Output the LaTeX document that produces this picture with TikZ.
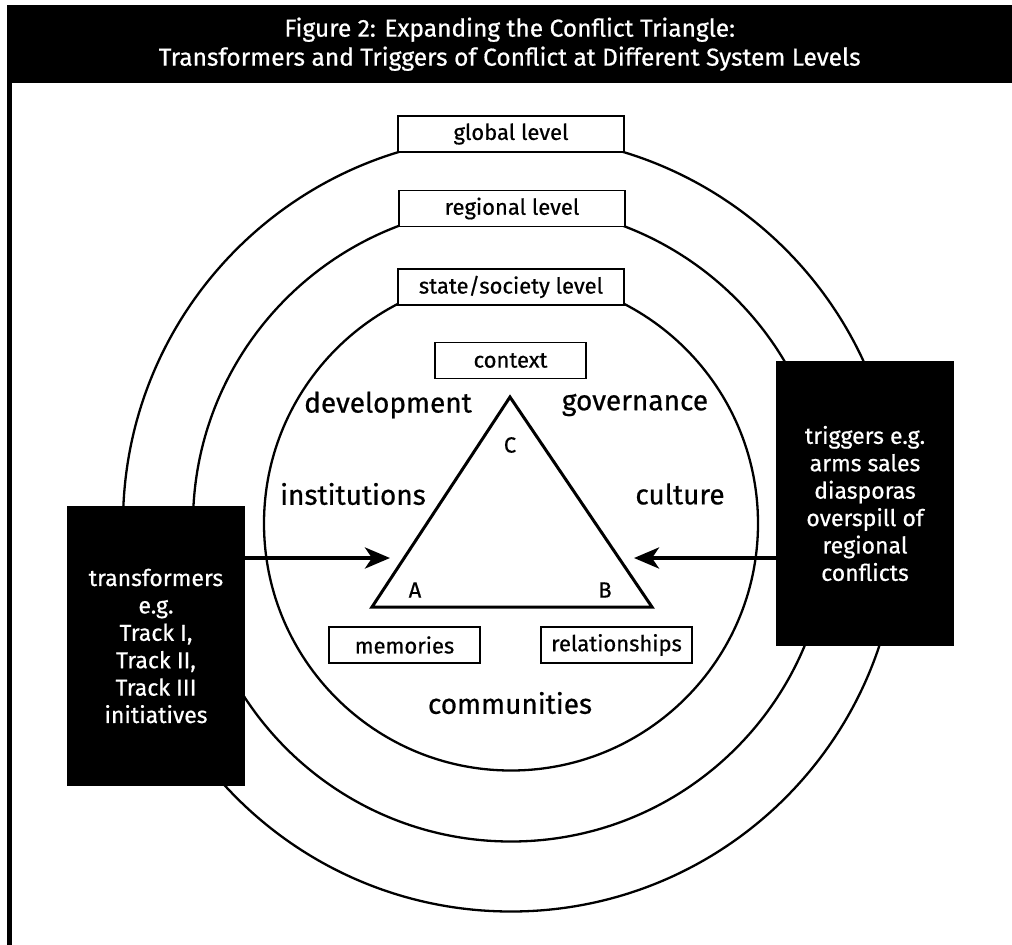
\documentclass[tikz,border=0pt]{standalone}
\usepackage{fontspec}
\setmainfont{Fira Sans}[FakeBold=0.6]
\usetikzlibrary{arrows.meta}
\begin{document}
\begin{tikzpicture}[x=1pt,y=-1pt,
  ring/.style={draw, line width=2.3pt},
  lvlbox/.style={draw, fill=white, line width=1.3pt, minimum width=226pt, minimum height=36pt, inner sep=0pt, font=\fontsize{22}{26}\selectfont},
  lblbox/.style={draw, fill=white, line width=1.3pt, minimum width=151pt, minimum height=36pt, inner sep=0pt, font=\fontsize{22}{26}\selectfont},
  blackbox/.style={fill=black, text=white, align=center, inner sep=0pt, font=\fontsize{23}{27.4}\selectfont},
  biglbl/.style={inner sep=0pt, font=\fontsize{28}{32}\selectfont},
  corner/.style={inner sep=0pt, font=\fontsize{22}{26}\selectfont},
  bigarrow/.style={-{Stealth[length=25pt,width=21pt,inset=7pt]}, line width=4pt}
]
\useasboundingbox (0,0) rectangle (1012,945);
\fill[white] (0,0) rectangle (1012,945);
% title band
\node[fill=black, minimum width=1005pt, minimum height=78pt, anchor=north west, inner sep=0pt,
      text=white, align=center, font=\fontsize{24.5}{29}\selectfont] (title) at (7,5)
  {Figure 2: Expanding the Conflict Triangle:\\Transformers and Triggers of Conflict at Different System Levels};
\coordinate (bl) at (9.5,945);
\draw[line width=4.3pt] (title.south west -| bl) -- (bl);
% rings
\coordinate (O) at (511,523.5);
\draw[ring] (O) circle[radius=388pt];
\draw[ring] (O) circle[radius=318pt];
\draw[ring] (O) circle[radius=247pt];
% level boxes
\node[lvlbox] (global) at (511,134) {global level};
\node[lvlbox] (regional) at (512,208.5) {regional level};
\node[lvlbox] (state) at (511,287) {state/society level};
% triangle
\coordinate (A) at (372,607);
\coordinate (B) at (652,607);
\coordinate (C) at (510,397);
\draw[line width=3pt, line join=miter] (A) -- (B) -- (C) -- cycle;
\node[corner] (la) at (415,590) {A};
\node[corner] (lb) at (605,590) {B};
\node[corner] (lc) at (510,445) {C};
% label boxes
\node[lblbox] (context) at (510.5,360.5) {context};
\node[lblbox] (memories) at (404.5,645) {memories};
\node[lblbox] (relationships) at (616.5,645) {relationships};
% big labels
\node[biglbl] (development) at (388,405) {development};
\node[biglbl] (governance) at (635,405) {governance};
\node[biglbl] (institutions) at (353,494) {institutions};
\node[biglbl] (culture) at (680,494) {culture};
\node[biglbl] (communities) at (510,703) {communities};
% black boxes
\node[blackbox, minimum width=178pt, minimum height=280pt] (transformers) at (156,646)
  {transformers\\e.g.\\Track I,\\Track II,\\Track III\\initiatives};
\node[blackbox, minimum width=178pt, minimum height=285pt] (triggers) at (865,503.5)
  {triggers e.g.\\arms sales\\diasporas\\overspill of\\regional\\conflicts};
% arrows
\coordinate (ta) at (390,558);
\coordinate (tb) at (634,558);
\draw[bigarrow] (transformers.east |- ta) -- (ta);
\draw[bigarrow] (triggers.west |- tb) -- (tb);
\end{tikzpicture}
\end{document}
